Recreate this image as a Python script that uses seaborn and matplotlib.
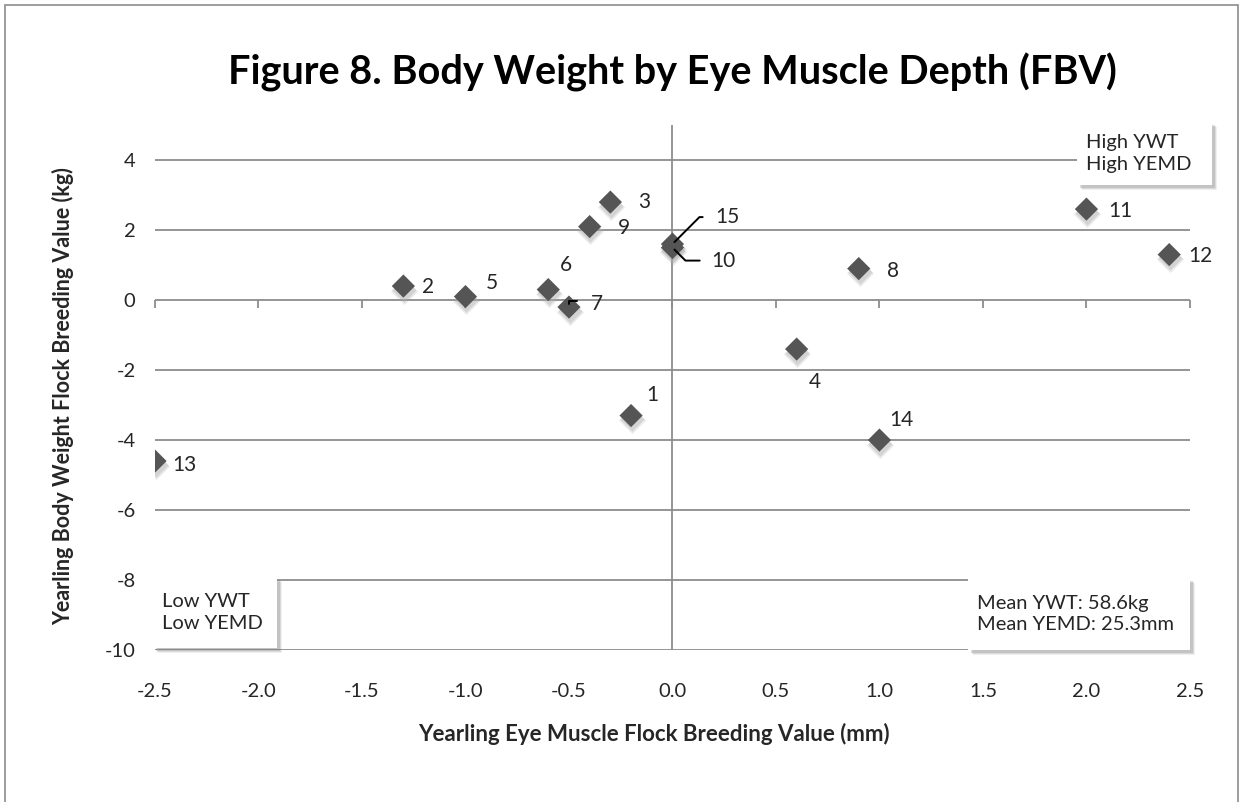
import numpy as np
import pandas as pd
import seaborn as sns
import matplotlib.pyplot as plt
from matplotlib.patches import Rectangle

# data
ids = ['1', '2', '3', '4', '5', '6', '7', '8', '9', '10', '11', '12', '13', '14', '15']
yemd = [-0.2, -1.3, -0.3, 0.6, -1.0, -0.6, -0.5, 0.9, -0.4, 0.0, 2.0, 2.4, -2.5, 1.0, 0.0]
ywt = [-3.3, 0.4, 2.8, -1.4, 0.1, 0.3, -0.2, 0.9, 2.1, 1.5, 2.6, 1.3, -4.6, -4.0, 1.6]
x_ticks = [-2.5, -2.0, -1.5, -1.0, -0.5, 0.0, 0.5, 1.0, 1.5, 2.0, 2.5]
y_ticks = [-10, -8, -6, -4, -2, 0, 2, 4]

df = pd.DataFrame({'id': ids, 'yemd': yemd, 'ywt': ywt})

sns.set_style('white')
plt.rcParams['font.family'] = ['Lato', 'DejaVu Sans']
plt.rcParams['axes.unicode_minus'] = False

W, H = 1243, 802
fig = plt.figure(figsize=(W / 100, H / 100), dpi=100)
ax = fig.add_axes([0.1247, 0.1895, 0.8326, 0.6545])

for s in ax.spines.values():
    s.set_visible(False)

ax.set_xlim(-2.5, 2.5)
ax.set_ylim(-10, 5)
for yv in y_ticks:
    ax.axhline(yv, color='#8c8c8c', lw=1.3, zorder=0)
ax.axvline(0, color='#8c8c8c', lw=1.3, zorder=0)

# soft shadow + markers
for dy, a, s in [(-0.14, 0.25, 190), (-0.1, 0.35, 150)]:
    ax.scatter(df['yemd'] + 0.004, df['ywt'] + dy, marker='D', s=s, color='#aaaaaa',
               alpha=a, linewidths=0, zorder=2)
sns.scatterplot(data=df, x='yemd', y='ywt', marker='D', s=140, color='#555555',
                edgecolor='none', ax=ax, zorder=3, legend=False)

# labels (pixel offsets)
offsets = {'1': (21, 21), '2': (25, -1), '3': (34, 0), '4': (18, -33), '5': (26, 14),
           '6': (18, 25), '7': (28, 3), '8': (34, -2), '9': (34, -1), '10': (51, -13),
           '11': (34, -2), '12': (31, -1), '13': (29, -4), '14': (22, 20), '15': (55, 27)}
for i, xv, yv in zip(ids, yemd, ywt):
    ax.annotate(i, (xv, yv), xytext=offsets[i], textcoords='offset pixels',
                fontsize=15, color='#262626', va='center', ha='center', zorder=5)

# leader lines
ax.annotate('', (0.0, 1.6), xytext=(33, 27), textcoords='offset pixels',
            arrowprops=dict(arrowstyle='-', color='black', lw=1.4,
                            connectionstyle='angle,angleA=0,angleB=45,rad=0'))
ax.annotate('', (0.0, 1.5), xytext=(30, -13), textcoords='offset pixels',
            arrowprops=dict(arrowstyle='-', color='black', lw=1.4,
                            connectionstyle='angle,angleA=0,angleB=-45,rad=0'))
ax.annotate('', (-0.5, -0.2), xytext=(11, 6), textcoords='offset pixels',
            arrowprops=dict(arrowstyle='-', color='black', lw=1.4,
                            connectionstyle='angle,angleA=0,angleB=90,rad=0'))

# ticks
ax.set_xticks(x_ticks)
ax.set_xticklabels([f'{v:.1f}' for v in x_ticks])
ax.set_yticks(y_ticks)
ax.tick_params(axis='both', length=0, labelsize=14.5, labelcolor='#262626', pad=14)
ax.tick_params(axis='x', pad=24)

sec = ax.secondary_xaxis(2 / 3)
sec.set_xticks(x_ticks)
sec.tick_params(axis='x', direction='out', length=6, color='#8c8c8c', width=1.3,
                labelbottom=False, labeltop=False)
sec.xaxis.set_ticks_position('bottom')
sec.spines['bottom'].set_color('#8c8c8c')
sec.spines['bottom'].set_linewidth(1.3)
for k in ['top', 'left', 'right']:
    sec.spines[k].set_visible(False)
sec.set_xticklabels([])

ax.set_xlabel('Yearling Eye Muscle Flock Breeding Value (mm)', fontsize=16, fontweight='bold',
              color='#262626')
ax.set_ylabel('Yearling Body Weight Flock Breeding Value (kg)', fontsize=15.5, fontweight='bold',
              color='#262626')
ax.xaxis.set_label_coords(0.482, -0.138)
ax.yaxis.set_label_coords(-0.078, 0.484)

fig.text(0.541, 0.91, 'Figure 8. Body Weight by Eye Muscle Depth (FBV)', fontsize=28.5,
         fontweight='bold', ha='center', va='center', color='black')

# quadrant boxes, drawn in figure pixels
boxes = [(1077, 122, 135, 63, 'High YWT\nHigh YEMD'),
         (153, 577, 124, 71, 'Low YWT\nLow YEMD'),
         (968, 578, 222, 72, 'Mean YWT: 58.6kg\nMean YEMD: 25.3mm')]
for bx, by, bw, bh, txt in boxes:
    for k, a in [(5, 0.12), (4, 0.18), (3, 0.25)]:
        fig.patches.append(Rectangle(((bx + k) / W, 1 - (by + bh + k) / H), bw / W, bh / H,
                                     transform=fig.transFigure, fc='#808080', ec='none',
                                     alpha=a, zorder=8))
    fig.patches.append(Rectangle((bx / W, 1 - (by + bh) / H), bw / W, bh / H,
                                 transform=fig.transFigure, fc='white', ec='none', zorder=9))
    fig.text((bx + 9) / W, 1 - (by + bh / 2) / H, txt, fontsize=14.5, ha='left', va='center',
             linespacing=1.35, color='#262626', zorder=10)

# chart border
fig.patches.append(Rectangle((0.004, -0.01), 0.992, 1.004, transform=fig.transFigure,
                             fill=False, ec='#8c8c8c', lw=1.2))

fig.savefig('out.png', dpi=100)
